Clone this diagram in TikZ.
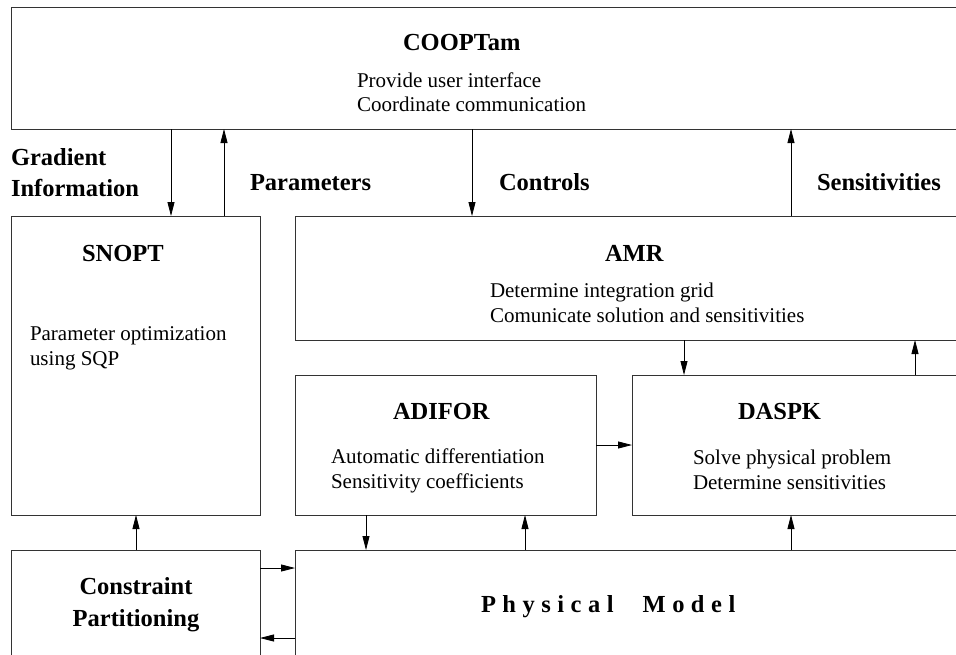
\documentclass[tikz,border=0pt]{standalone}
\usepackage{fontspec}
\setmainfont{Liberation Serif}
\usetikzlibrary{arrows.meta}
\newcommand\regtxt{\fontsize{21}{25}\selectfont}
\newcommand\boldtxt{\fontsize{24.5}{30}\selectfont\bfseries}
\tikzset{
  box/.style={draw=black!80, line width=1pt, anchor=north west, inner sep=0pt, outer sep=0pt},
  arr/.style={line width=0.8pt, -{Triangle[length=14pt,width=7pt]}},
  lbl/.style={anchor=base west, inner sep=0pt, outer sep=0pt, align=left},
  clbl/.style={anchor=base, inner sep=0pt, outer sep=0pt, align=center},
}
\begin{document}
\begin{tikzpicture}[x=1pt, y=-1pt]
\useasboundingbox (0,0) rectangle (956,654);
\clip (0,0) rectangle (956,654);
% boxes
\node[box, minimum width=980pt, minimum height=122pt] (coop) at (11,7) {};
\node[box, minimum width=249pt, minimum height=299pt] (snopt) at (11,216) {};
\node[box, minimum width=680pt, minimum height=124pt] (amr) at (295,216) {};
\node[box, minimum width=301pt, minimum height=140pt] (adifor) at (295,375) {};
\node[box, minimum width=350pt, minimum height=140pt] (daspk) at (632,375) {};
\node[box, minimum width=249pt, minimum height=130pt] (constr) at (11,550) {};
\node[box, minimum width=680pt, minimum height=130pt] (phys) at (295,550) {};
% texts
\node[lbl] (coopt) at (403,50) {\boldtxt COOPTam};
\node[lbl] (coopd1) at (357,87) {\regtxt Provide user interface};
\node[lbl] (coopd2) at (357,111) {\regtxt Coordinate communication};
\node[lbl] (grad1) at (11,165) {\boldtxt Gradient};
\node[lbl] (grad2) at (11,196) {\boldtxt Information};
\node[lbl] (param) at (250,190) {\boldtxt Parameters};
\node[lbl] (ctrl) at (499,190) {\boldtxt Controls};
\node[lbl] (sens) at (817,190) {\boldtxt Sensitivities};
\node[lbl] (snoptt) at (82,261) {\boldtxt SNOPT};
\node[lbl] (snoptd1) at (30,340) {\regtxt Parameter optimization};
\node[lbl] (snoptd2) at (30,365) {\regtxt using SQP};
\node[lbl] (amrt) at (605,261) {\boldtxt AMR};
\node[lbl] (amrd1) at (490,297) {\regtxt Determine integration grid};
\node[lbl] (amrd2) at (490,322) {\regtxt Comunicate solution and sensitivities};
\node[lbl] (adit) at (393,419) {\boldtxt ADIFOR};
\node[lbl] (adid1) at (331,463) {\regtxt Automatic differentiation};
\node[lbl] (adid2) at (331,488) {\regtxt Sensitivity coefficients};
\node[lbl] (dast) at (738,419) {\boldtxt DASPK};
\node[lbl] (dasd1) at (693,464) {\regtxt Solve physical problem};
\node[lbl] (dasd2) at (693,489) {\regtxt Determine sensitivities};
\node[clbl] (con1) at (136,594) {\boldtxt Constraint};
\node[clbl] (con2) at (136,626) {\boldtxt Partitioning};
\node[lbl] (physt) at (481,612) {\boldtxt P\kern6.5pt h\kern6.5pt y\kern6.5pt s\kern6.5pt i\kern6.5pt c\kern6.5pt a\kern6.5pt l\hspace{29pt}M\kern6.5pt o\kern6.5pt d\kern6.5pt e\kern6.5pt l};
% coordinates for arrow positions
\coordinate (xa) at (171,0);
\coordinate (xb) at (224,0);
\coordinate (xc) at (472,0);
\coordinate (xd) at (791,0);
\coordinate (xe) at (684,0);
\coordinate (xf) at (915,0);
\coordinate (xg) at (366,0);
\coordinate (xh) at (525,0);
\coordinate (xi) at (136,0);
\coordinate (ya) at (0,445);
\coordinate (yb) at (0,568);
\coordinate (yc) at (0,638);
% arrows
\draw[arr] (coop.south -| xa) -- (snopt.north -| xa);
\draw[arr] (snopt.north -| xb) -- (coop.south -| xb);
\draw[arr] (coop.south -| xc) -- (amr.north -| xc);
\draw[arr] (amr.north -| xd) -- (coop.south -| xd);
\draw[arr] (amr.south -| xe) -- (daspk.north -| xe);
\draw[arr] (daspk.north -| xf) -- (amr.south -| xf);
\draw[arr] (adifor.east |- ya) -- (daspk.west |- ya);
\draw[arr] (adifor.south -| xg) -- (phys.north -| xg);
\draw[arr] (phys.north -| xh) -- (adifor.south -| xh);
\draw[arr] (phys.north -| xd) -- (daspk.south -| xd);
\draw[arr] (constr.north -| xi) -- (snopt.south -| xi);
\draw[arr] (constr.east |- yb) -- (phys.west |- yb);
\draw[arr] (phys.west |- yc) -- (constr.east |- yc);
\end{tikzpicture}
\end{document}
